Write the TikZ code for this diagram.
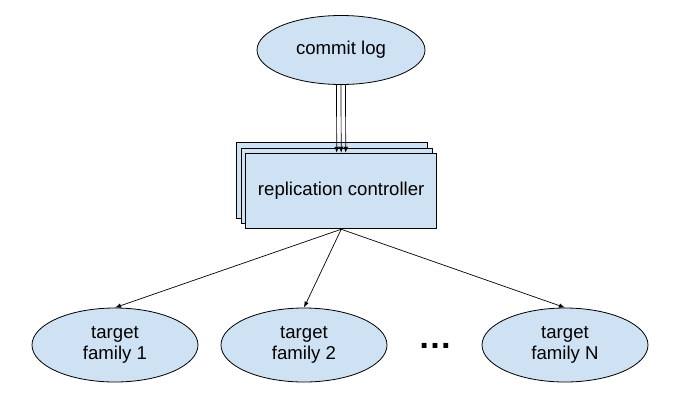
\documentclass[tikz,border=0pt]{standalone}
\usepackage{fontspec}
\setmainfont{Liberation Sans}
\usepackage{xcolor}
\usetikzlibrary{positioning,arrows.meta,shapes.geometric}

\definecolor{drawblue}{HTML}{CFE2F3}

\begin{document}
\begin{tikzpicture}[
  x=1pt, y=-1pt,
  store/.style={draw, ellipse, fill=drawblue, line width=0.8pt,
                inner sep=0pt, align=center,
                font=\fontsize{18.6}{21.6}\selectfont},
  ctrlbox/.style={draw, rectangle, fill=drawblue, line width=0.8pt,
                  minimum width=191pt, minimum height=75.7pt,
                  font=\fontsize{18.6}{21.6}\selectfont},
  flow/.style={-{Latex[length=6pt,width=4.6pt]}, line width=0.7pt},
  >=Latex
]
  \useasboundingbox (0,0) rectangle (684,415);

  % Source
  \node[store, minimum width=168pt, minimum height=69pt] (log)
    at (341,50) {commit log};

  % Stacked controllers
  \node[ctrlbox] (ctrlB) at (331.8,180.6) {};
  \node[ctrlbox] (ctrlA) at (336.5,185.8) {};
  \node[ctrlbox] (ctrl) at (341.2,191) {replication controller};

  % Targets
  \node[store, minimum width=166pt, minimum height=74pt] (fam1)
    at (115,345) {target\\family 1};
  \node[store, minimum width=166pt, minimum height=74pt] (fam2)
    at (304,345) {target\\family 2};
  \node[store, minimum width=166pt, minimum height=74pt] (famN)
    at (565,345) {target\\family N};
  \node[anchor=base, inner sep=0pt,
        font=\fontsize{34}{34}\selectfont\bfseries] (dots)
    at (435,348) {…};

  % Arrows
  \draw[flow] ([xshift=-4.5pt]log.south) -- ([xshift=-4.5pt]ctrl.north);
  \draw[flow] (log.south) -- (ctrl.north);
  \draw[flow] ([xshift=4.5pt]log.south) -- ([xshift=4.5pt]ctrl.north);
  \draw[flow] (ctrl.south) -- (fam1.north);
  \draw[flow] (ctrl.south) -- (fam2.north);
  \draw[flow] (ctrl.south) -- (famN.north);
\end{tikzpicture}
\end{document}
